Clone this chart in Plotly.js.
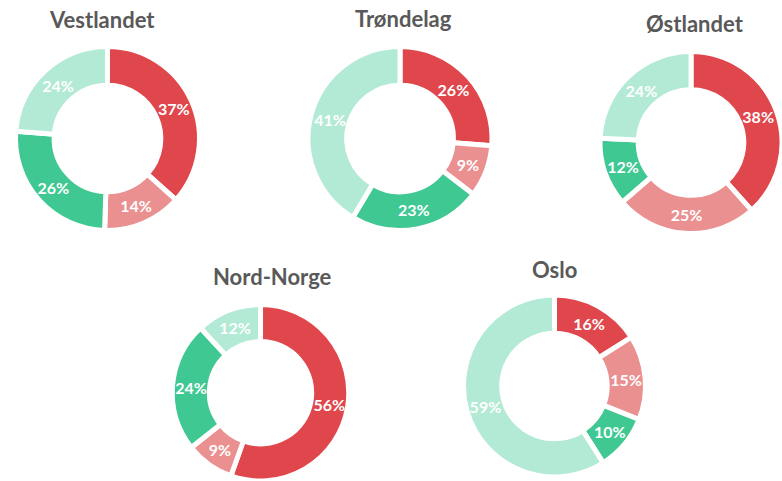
<!DOCTYPE html>
<html>
<head>
<meta charset="utf-8">
<script src="https://cdn.plot.ly/plotly-3.0.1.min.js"></script>
<style>
html,body{margin:0;padding:0;background:#fff;overflow:hidden;}
#chart{width:782px;height:481px;}
</style>
</head>
<body>
<div id="chart"></div>
<script>
// Data
const regions = ['Vestlandet', 'Trøndelag', 'Østlandet', 'Nord-Norge', 'Oslo'];
const categories = ['Kategori 1', 'Kategori 2', 'Kategori 3', 'Kategori 4'];
const vestlandet = [37, 14, 26, 24];
const trondelag = [26, 9, 23, 41];
const ostlandet = [38, 25, 12, 24];
const nordNorge = [56, 9, 24, 12];
const oslo = [16, 15, 10, 59];

const seriesByRegion = [vestlandet, trondelag, ostlandet, nordNorge, oslo];
const colors = ['#E0474C', '#EA9090', '#40C893', '#B3EAD5'];

// layout (paper coords)
const domains = [
  {x: [0.0198, 0.2551], y: [0.5208, 0.9033]},
  {x: [0.3939, 0.6292], y: [0.5208, 0.9033]},
  {x: [0.7673, 1.0], y: [0.5125, 0.8950]},
  {x: [0.2155, 0.4508], y: [0.0, 0.3669]},
  {x: [0.5927, 0.8254], y: [0.0083, 0.3867]}
];
const titlePos = [
  {x: 102, y: 19},
  {x: 403, y: 18},
  {x: 695, y: 23},
  {x: 272, y: 276},
  {x: 554, y: 269}
];

const W = 782, H = 481;
const data = seriesByRegion.map((vals, i) => ({
  type: 'pie',
  values: vals,
  labels: categories,
  hole: 0.58,
  sort: false,
  direction: 'clockwise',
  rotation: 0,
  domain: domains[i],
  marker: {colors: colors, line: {color: '#ffffff', width: 5}},
  texttemplate: '%{value}%',
  textposition: 'inside',
  insidetextorientation: 'horizontal',
  textfont: {family: 'Lato', size: 16, color: '#ffffff', weight: 'bold'},
  hoverinfo: 'skip',
  name: regions[i]
}));

const annotations = regions.map((r, i) => ({
  text: '<b>' + r + '</b>',
  xref: 'paper', yref: 'paper',
  x: titlePos[i].x / W, y: 1 - titlePos[i].y / H,
  xanchor: 'center', yanchor: 'middle',
  showarrow: false,
  font: {family: 'Lato', size: 22, color: '#595959'}
}));

const layout = {
  width: W, height: H,
  margin: {l: 0, r: 0, t: 0, b: 0},
  showlegend: false,
  paper_bgcolor: '#ffffff',
  plot_bgcolor: '#ffffff',
  annotations: annotations,
  font: {family: 'Lato'}
};

Plotly.newPlot('chart', data, layout, {displayModeBar: false, staticPlot: true});
</script>
</body>
</html>
